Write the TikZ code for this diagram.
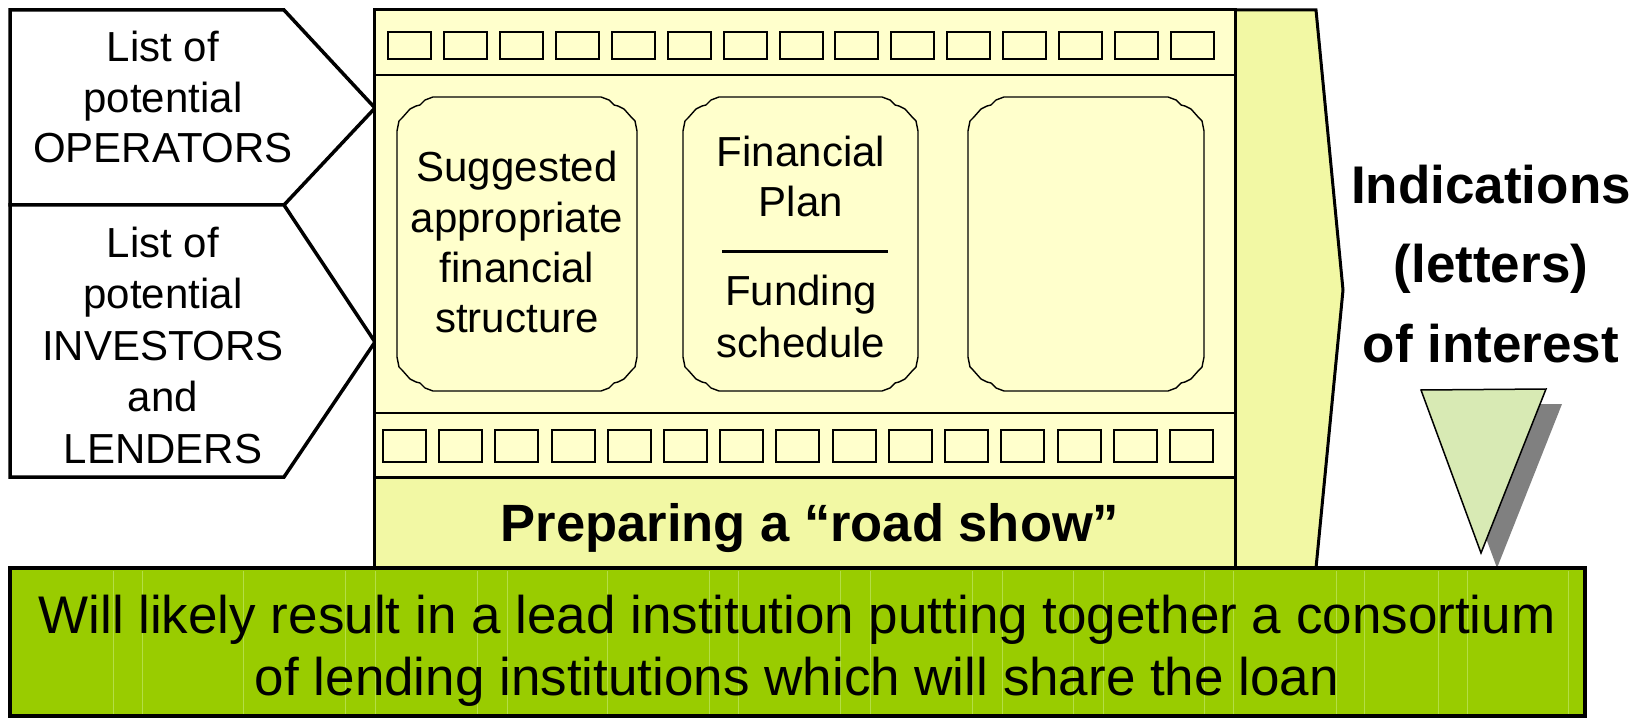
\documentclass[tikz,border=0pt]{standalone}
\usepackage{fontspec}
\setmainfont{Liberation Sans}
\definecolor{filmyellow}{RGB}{255,255,204}
\definecolor{bandyellow}{RGB}{242,248,164}
\definecolor{leafgreen}{RGB}{153,204,0}
\definecolor{texgreen}{RGB}{180,222,70}
\definecolor{trigreen}{RGB}{216,234,180}
\definecolor{shadowgray}{RGB}{128,128,128}
\newcommand\wobblybox[4]{%
\draw[wb] (#1,#2+34) -- (#1+2,#2+24) -- (#1+5,#2+21) -- (#1+13,#2+12) -- (#1+19,#2+9) -- (#1+23,#2+8) -- (#1+28,#2+3) -- (#1+36,#2)
 -- (#3-36,#2) -- (#3-28,#2+3) -- (#3-23,#2+8) -- (#3-19,#2+9) -- (#3-13,#2+12) -- (#3-5,#2+21) -- (#3-2,#2+24) -- (#3,#2+34)
 -- (#3,#4-34) -- (#3-2,#4-24) -- (#3-5,#4-21) -- (#3-13,#4-12) -- (#3-19,#4-9) -- (#3-23,#4-8) -- (#3-28,#4-3) -- (#3-36,#4)
 -- (#1+36,#4) -- (#1+28,#4-3) -- (#1+23,#4-8) -- (#1+19,#4-9) -- (#1+13,#4-12) -- (#1+5,#4-21) -- (#1+2,#4-24) -- (#1,#4-34) -- cycle;}
\begin{document}
\begin{tikzpicture}[x=1pt,y=-1pt,
  pent/.style={draw=black,line width=3.5pt,fill=white,line join=miter},
  film/.style={draw=black,line width=3pt,fill=filmyellow},
  bandbox/.style={draw=black,line width=3pt,fill=bandyellow},
  sep/.style={draw=black,line width=1.5pt},
  sq/.style={draw=black,line width=2pt},
  wb/.style={draw=black,line width=1.4pt,line join=round},
  lbl/.style={font=\fontsize{42}{50.5}\selectfont,align=center,anchor=base,inner sep=0pt},
  boldlbl/.style={font=\bfseries\fontsize{53}{79.5}\selectfont,align=center,anchor=base,inner sep=0pt},
  greenlbl/.style={font=\fontsize{53}{62}\selectfont,align=center,anchor=base,inner sep=0pt},
  texline/.style={draw=texgreen,line width=0.8pt},
  tri/.style={draw=black,line width=1.5pt,fill=trigreen,line join=miter}
]
\useasboundingbox (0,0) rectangle (1649,719);
% left pentagons
\draw[pent] (10,10) -- (284,10) -- (375,108) -- (284,205) -- (10,205) -- cycle;
\draw[pent] (10,205) -- (284,205) -- (375,342) -- (284,477) -- (10,477) -- cycle;
\node[lbl] (ops) at (163,163) {List of\\potential\\OPERATORS};
\node[lbl,font=\fontsize{42}{51.5}\selectfont] (inv) at (163,463) {List of\\potential\\INVESTORS\\and\\LENDERS};
% right arrow-shaped band
\draw[bandbox,line join=miter] (1235,10) -- (1316,10) -- (1343,290) -- (1316,568) -- (1235,568) -- cycle;
% road show band
\draw[bandbox] (374,477) rectangle (1235,568);
\node[boldlbl,font=\bfseries\fontsize{52.5}{60}\selectfont] (road) at (810,541) {Preparing a “road show”};
% film strip
\draw[film] (374,10) rectangle (1235,477);
\draw[sep] (374,75) -- (1235,75);
\draw[sep] (374,413) -- (1235,413);
\foreach \k in {0,...,14}{
  \draw[sq] ({388+55.93*\k},32) rectangle ({431+55.93*\k},59);
  \draw[sq] ({383+56.21*\k},430) rectangle ({426+56.21*\k},462);
}
% frames
\wobblybox{397}{97}{637}{391}
\wobblybox{683}{97}{918}{391}
\wobblybox{968}{97}{1204}{391}
\node[lbl,font=\fontsize{42}{50}\selectfont] (sugg) at (517,332) {Suggested\\appropriate\\financial\\structure};
\node[lbl,font=\fontsize{42}{50}\selectfont] (plan) at (801,217) {Financial\\Plan};
\node[lbl,font=\fontsize{42}{52}\selectfont] (fund) at (801,357) {Funding\\schedule};
\coordinate (divL) at (722,252);
\coordinate (divR) at (888,252);
\draw[line width=3pt] (divL) -- (divR);
% indications
\node[boldlbl] (ind) at (1491,362) {Indications\\(letters)\\of interest};
% triangle with shadow
\fill[shadowgray] (1437,405) -- (1562,404) -- (1497,568) -- cycle;
\draw[tri] (1421,390) -- (1546,389) -- (1481,553) -- cycle;
% green box
\fill[leafgreen] (10,568) rectangle (1585,716);
\foreach \gx in {113,142,243,345,375,477,507,607,709,738,840,870,972,1002,1073,1103,1204,1233,1336,1364,1438,1467,1568}{
  \draw[texline] (\gx,571) -- (\gx,714);
}
\draw[draw=black,line width=3.5pt] (10,568) rectangle (1585,716);
\node[greenlbl] (will) at (797,695) {Will likely result in a lead institution putting together a consortium\\of lending institutions which will share the loan};
\end{tikzpicture}
\end{document}
